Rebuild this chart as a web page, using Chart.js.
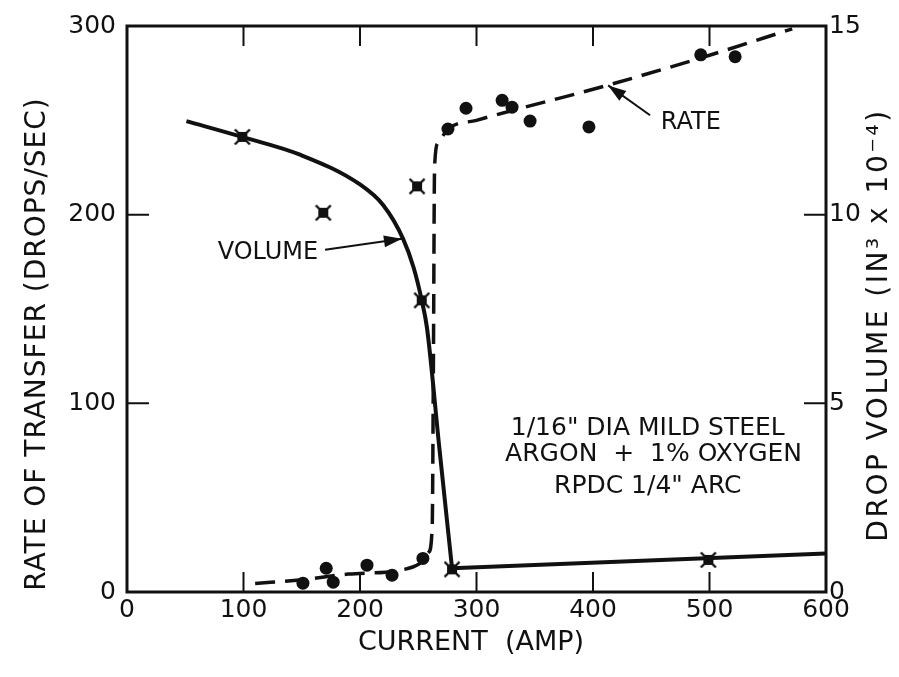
<!DOCTYPE html>
<html>
<head>
<meta charset="utf-8">
<script src="https://cdn.jsdelivr.net/npm/chart.js@4"></script>
<style>
  html, body { margin: 0; padding: 0; background: #fff; }
  #wrap { width: 899px; height: 677px; }
</style>
</head>
<body>
<div id="wrap"><canvas id="dropChart" width="899" height="677"></canvas></div>
<script>
// Rate of drop transfer and drop volume vs. welding current

var xTicks = [0, 100, 200, 300, 400, 500, 600];
var rateTicks = [0, 100, 200, 300];
var volumeTicks = [0, 5, 10, 15];

// measured rate of transfer (drops/sec)
var rateCurrent = [151, 171, 177, 206, 227.5, 254, 275.5, 291, 322, 330.5, 346, 396.5, 492.5, 522];
var rateValues = [4.7, 12.6, 5.2, 14.2, 8.9, 17.8, 245.4, 256.4, 260.6, 257, 249.6, 246.5, 284.7, 283.7];

// faired rate curve (dashed)
var rateCurveCurrent = [110, 150, 190, 234, 251, 259, 262, 263, 264, 267, 275.5, 300, 412, 500, 571];
var rateCurveValues = [4.5, 6.5, 9.5, 11.5, 15, 21, 35, 120, 225, 238, 245.4, 250, 268.5, 284.5, 298.5];

// measured drop volume (in^3 x 10^-4)
var volumeCurrent = [99, 168.5, 249, 253, 279, 499];
var volumeValues = [12.06, 10.05, 10.75, 7.73, 0.6, 0.85];

// faired volume curve (solid)
var volumeCurveCurrent = [51, 99, 148.5, 200, 220, 237, 246, 253, 257.5, 268, 279];
var volumeCurveValues = [12.48, 12.06, 11.59, 10.8, 10.25, 9.36, 8.6, 7.73, 7.0, 3.85, 0.63];
var volumeLineCurrent = [279, 600];
var volumeLineValues = [0.63, 1.02];

function toPoints(xs, ys) {
    return xs.map(function(x, i) { return { x: x, y: ys[i] }; });
}

// star-like marker used for the volume points
var volMarker = document.createElement('canvas');
volMarker.width = 18;
volMarker.height = 18;
(function() {
    var c = volMarker.getContext('2d');
    c.fillStyle = '#111';
    c.fillRect(4, 4, 10, 10);
    c.strokeStyle = '#111';
    c.lineWidth = 2.4;
    c.beginPath();
    c.moveTo(1.5, 1.5); c.lineTo(16.5, 16.5);
    c.moveTo(16.5, 1.5); c.lineTo(1.5, 16.5);
    c.stroke();
})();

var FONT = '"DejaVu Sans", sans-serif';

var framePlugin = {
    id: 'frame',
    afterDraw: function(chart) {
        var ctx = chart.ctx;
        var a = chart.chartArea;
        var sx = chart.scales.x, sy = chart.scales.y, sy1 = chart.scales.y1;
        ctx.save();
        ctx.strokeStyle = '#111';
        ctx.lineWidth = 3;
        ctx.strokeRect(a.left, a.top, a.right - a.left, a.bottom - a.top);

        // inward tick marks
        ctx.lineWidth = 2;
        ctx.beginPath();
        xTicks.slice(1, -1).forEach(function(v) {
            var px = sx.getPixelForValue(v);
            ctx.moveTo(px, a.bottom); ctx.lineTo(px, a.bottom - 20);
            ctx.moveTo(px, a.top); ctx.lineTo(px, a.top + 20);
        });
        rateTicks.slice(1, -1).forEach(function(v) {
            var py = sy.getPixelForValue(v);
            ctx.moveTo(a.left, py); ctx.lineTo(a.left + 22, py);
        });
        volumeTicks.slice(1, -1).forEach(function(v) {
            var py = sy1.getPixelForValue(v);
            ctx.moveTo(a.right, py); ctx.lineTo(a.right - 22, py);
        });
        ctx.stroke();

        // axis titles
        ctx.fillStyle = '#111';
        ctx.textAlign = 'center';
        ctx.textBaseline = 'middle';
        ctx.font = '27px ' + FONT;
        ctx.fillText('CURRENT  (AMP)', 471, 643);

        ctx.font = '28px ' + FONT;
        ctx.letterSpacing = '1px';
        ctx.save();
        ctx.translate(38, 344);
        ctx.rotate(-Math.PI / 2);
        ctx.fillText('RATE OF TRANSFER (DROPS/SEC)', 0, 0);
        ctx.restore();

        ctx.letterSpacing = '2.5px';
        ctx.save();
        ctx.translate(880, 325);
        ctx.rotate(-Math.PI / 2);
        ctx.fillText('DROP VOLUME (IN\u00B3 x 10\u207B\u2074)', 0, 0);
        ctx.restore();
        ctx.letterSpacing = '0px';

        // annotations (placed in data units)
        function P(x, y) { return [sx.getPixelForValue(x), sy.getPixelForValue(y)]; }
        ctx.font = '24px ' + FONT;
        var t;
        t = P(121, 180); ctx.fillText('VOLUME', t[0], t[1]);
        t = P(484, 248.6); ctx.fillText('RATE', t[0], t[1]);
        ctx.font = '25px ' + FONT;
        t = P(447, 86.5); ctx.fillText('1/16" DIA MILD STEEL', t[0], t[1]);
        t = P(452, 73); ctx.fillText('ARGON  +  1% OXYGEN', t[0], t[1]);
        t = P(447, 56); ctx.fillText('RPDC 1/4" ARC', t[0], t[1]);

        function arrow(from, to, filled) {
            var ang = Math.atan2(to[1] - from[1], to[0] - from[0]);
            ctx.lineWidth = 2;
            ctx.beginPath();
            ctx.moveTo(from[0], from[1]);
            ctx.lineTo(to[0], to[1]);
            ctx.stroke();
            var len = 18, w = 6;
            var bx = to[0] - len * Math.cos(ang), by = to[1] - len * Math.sin(ang);
            ctx.beginPath();
            ctx.moveTo(to[0], to[1]);
            ctx.lineTo(bx + w * Math.sin(ang), by - w * Math.cos(ang));
            ctx.lineTo(bx - w * Math.sin(ang), by + w * Math.cos(ang));
            ctx.closePath();
            if (filled) ctx.fill(); else ctx.stroke();
        }
        arrow(P(170, 181.4), P(236, 187.2), true);
        arrow(P(449, 252.7), P(413, 268.5), true);
        ctx.restore();
    }
};

var ctx = document.getElementById('dropChart');
new Chart(ctx, {
    type: 'scatter',
    data: {
        datasets: [{
            label: 'Rate curve',
            data: toPoints(rateCurveCurrent, rateCurveValues),
            yAxisID: 'y',
            showLine: true,
            borderColor: '#111',
            borderWidth: 3.5,
            borderDash: [20, 10],
            cubicInterpolationMode: 'monotone',
            pointRadius: 0
        }, {
            label: 'Volume curve',
            data: toPoints(volumeCurveCurrent, volumeCurveValues),
            yAxisID: 'y1',
            showLine: true,
            borderColor: '#111',
            borderWidth: 4,
            cubicInterpolationMode: 'monotone',
            pointRadius: 0
        }, {
            label: 'Volume line',
            data: toPoints(volumeLineCurrent, volumeLineValues),
            yAxisID: 'y1',
            showLine: true,
            borderColor: '#111',
            borderWidth: 4,
            pointRadius: 0
        }, {
            label: 'Rate',
            data: toPoints(rateCurrent, rateValues),
            yAxisID: 'y',
            pointStyle: 'circle',
            pointRadius: 6.5,
            backgroundColor: '#111',
            borderWidth: 0
        }, {
            label: 'Volume',
            data: toPoints(volumeCurrent, volumeValues),
            yAxisID: 'y1',
            pointStyle: volMarker,
            pointRadius: 9
        }]
    },
    options: {
        responsive: false,
        animation: false,
        layout: { padding: { top: 20 } },
        plugins: {
            legend: { display: false },
            tooltip: { enabled: false }
        },
        scales: {
            x: {
                type: 'linear',
                position: 'bottom',
                min: 0,
                max: 600,
                afterBuildTicks: function(s) { s.ticks = xTicks.map(function(v) { return { value: v }; }); },
                afterFit: function(s) { s.height = 85; },
                grid: { display: false, drawTicks: false },
                border: { display: false },
                ticks: { color: '#111', padding: 3, font: { family: FONT, size: 25 }, maxRotation: 0 }
            },
            y: {
                position: 'left',
                min: 0,
                max: 300,
                afterBuildTicks: function(s) { s.ticks = rateTicks.map(function(v) { return { value: v }; }); },
                afterFit: function(s) { s.width = 127; },
                grid: { display: false, drawTicks: false },
                border: { display: false },
                ticks: { color: '#111', padding: 11, font: { family: FONT, size: 25 } }
            },
            y1: {
                position: 'right',
                min: 0,
                max: 15,
                afterBuildTicks: function(s) { s.ticks = volumeTicks.map(function(v) { return { value: v }; }); },
                afterFit: function(s) { s.width = 73; },
                grid: { display: false, drawTicks: false },
                border: { display: false },
                ticks: { color: '#111', padding: 3, font: { family: FONT, size: 25 } }
            }
        }
    },
    plugins: [framePlugin]
});
</script>
</body>
</html>
